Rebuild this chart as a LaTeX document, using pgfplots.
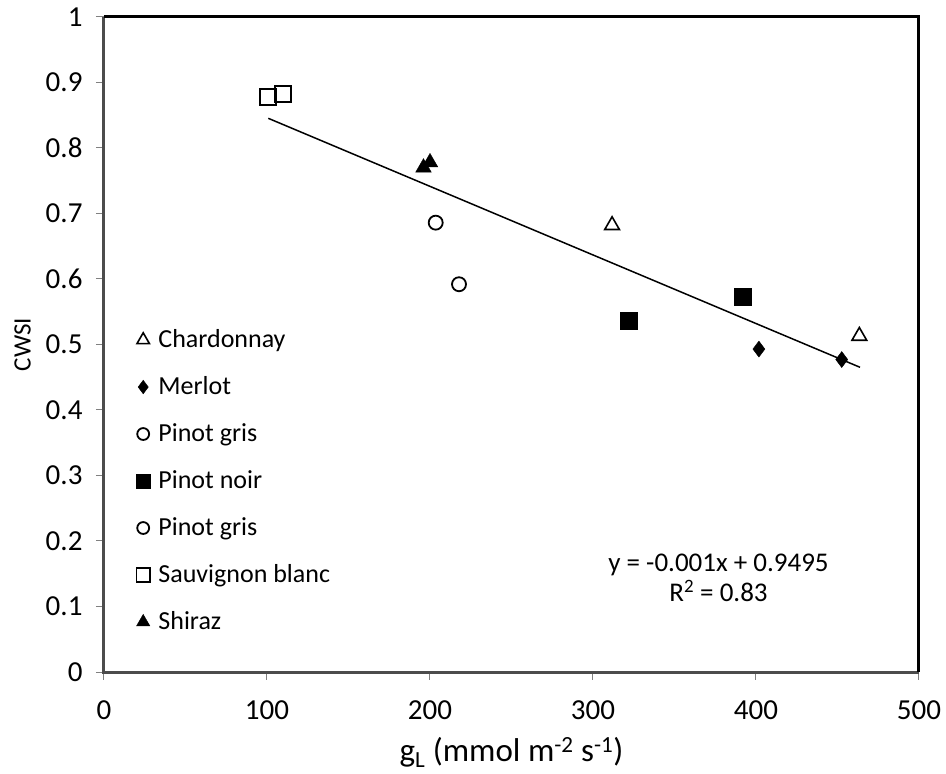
\documentclass[border=0pt]{standalone}
\usepackage{pgfplots}
\pgfplotsset{compat=1.18}
\usepackage{fontspec}
\setmainfont{Carlito}
\begin{document}
\begin{tikzpicture}
\useasboundingbox (-104pt,-102pt) rectangle (842pt,655pt+17pt);
\begin{axis}[
  at={(0pt,0pt)}, anchor=south west,
  scale only axis, width=815pt, height=655pt,
  xmin=0, xmax=500, ymin=0, ymax=1,
  xtick={0,100,200,300,400,500},
  ytick={0,0.1,0.2,0.3,0.4,0.5,0.6,0.7,0.8,0.9,1},
  yticklabel style={/pgf/number format/fixed,/pgf/number format/precision=1, xshift=-10pt},
  xticklabel style={yshift=-17pt},
  /pgf/number format/assume math mode=true,
  tick align=outside, xtick pos=left, ytick pos=left,
  major tick length=8pt,
  tick style={gray, line width=1pt},
  axis line style={draw=none},
  ticklabel style={font=\fontsize{29}{32}\selectfont},
  xlabel={g\textsubscript{L} (mmol m\textsuperscript{-2} s\textsuperscript{-1})},
  xlabel style={font=\fontsize{33}{36}\selectfont, yshift=-11pt},
  ylabel={CWSI},
  ylabel style={font=\fontsize{25}{28}\selectfont, yshift=8pt},
  legend cell align=left,
  legend image code/.code={\draw[#1, every mark/.append style={scale=0.85}] plot coordinates {(0pt,0pt)};},
  legend style={draw=none, fill=none, at={(0.039,0.527)}, anchor=north west,
    font=\fontsize{26}{30}\selectfont, row sep=21pt, inner sep=0pt,
    nodes={inner sep=0pt, text height=20pt, text depth=6pt},
    /tikz/every odd column/.append style={column sep=8pt}},
  clip=false,
]
\addplot[only marks, mark=triangle, mark size=8.5pt, line width=1.6pt, black, mark options={fill=white}]
  coordinates {(311.7,0.682) (463.4,0.513)};
\addlegendentry{Chardonnay}
\addplot[only marks, mark=diamond*, mark size=8pt, black]
  coordinates {(401.8,0.493) (452.6,0.477)};
\addlegendentry{Merlot}
\addplot[only marks, mark=o, mark size=7pt, line width=1.8pt, black, mark options={fill=white}]
  coordinates {(203.5,0.686)};
\addlegendentry{Pinot gris}
\addplot[only marks, mark=square*, mark size=8.5pt, black]
  coordinates {(321.7,0.537) (391.6,0.573)};
\addlegendentry{Pinot noir}
\addplot[only marks, mark=o, mark size=7pt, line width=1.8pt, black, mark options={fill=white}]
  coordinates {(217.8,0.592)};
\addlegendentry{Pinot gris}
\addplot[only marks, mark=square, mark size=8pt, line width=1.8pt, black, mark options={fill=white}]
  coordinates {(100.4,0.878) (110.0,0.882)};
\addlegendentry{Sauvignon blanc}
\addplot[only marks, mark=triangle*, mark size=9pt, black]
  coordinates {(196,0.770) (200,0.778)};
\addlegendentry{Shiraz}
\addplot[black, line width=1.5pt, forget plot] coordinates {(100.8,0.8453) (463.8,0.4652)};
\node[align=center, font=\fontsize{27}{30}\selectfont] at (axis cs:377,0.1435)
  {y = -0.001x + 0.9495\\R\textsuperscript{2} = 0.83};
\draw[gray!60!black, line width=3pt] (rel axis cs:0,1) -- (rel axis cs:0,0) -- (rel axis cs:1,0);
\draw[black, line width=3pt] (rel axis cs:0,1) -- (rel axis cs:1,1) -- (rel axis cs:1,0);
\end{axis}
\end{tikzpicture}
\end{document}
